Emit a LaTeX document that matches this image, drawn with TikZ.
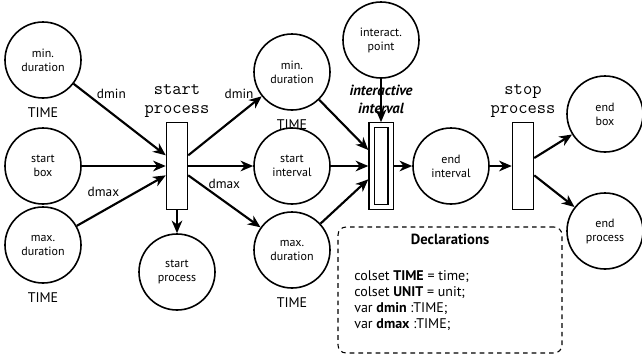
\documentclass[tikz,border=0pt]{standalone}
\usepackage{fontspec}
\setmainfont{PT Sans}
\usetikzlibrary{arrows.meta}
\usetikzlibrary{positioning}
\tikzset{place/.style = {draw, circle, line width=1.2pt, minimum size=57pt, inner sep=0pt,
                         align=center, font=\fontsize{9}{10.5}\selectfont},
         trans/.style = {draw, line width=1.1pt, minimum width=15.75pt, minimum height=65pt,
                         inner sep=0pt},
         arc/.style = {-{Stealth[length=9.5pt, width=8pt, inset=3pt]}, line width=1.6pt},
         colset/.style = {font=\fontsize{10.5}{12}\selectfont},
         inscr/.style = {font=\fontsize{10}{12}\selectfont, inner sep=1pt},
         tname/.style = {font=\ttfamily\fontsize{13.5}{14.5}\selectfont, align=center, inner sep=1pt}}

\begin{document}
\begin{tikzpicture}[x=0.75pt, y=-0.75pt]
    \useasboundingbox (0, 0) rectangle (642, 358);

    \node [place] (mindur) at (43, 60) {min.\\duration};
    \node [place] (startbox) at (43, 166) {start\\box};
    \node [place] (maxdur) at (43, 245) {max.\\duration};
    \node [colset, below=3pt of mindur] (mindurset) {TIME};
    \node [colset, below=3pt of maxdur] (maxdurset) {TIME};

    \node [trans] (tstart) at (177, 166) {};
    \node [tname, above=2pt of tstart] (tstartname) {start\\process};
    \node [place] (startproc) at (177, 272) {start\\process};

    \node [place] (mindurint) at (292, 72) {min.\\duration};
    \node [place] (startint) at (292, 166) {start\\interval};
    \node [place] (maxdurint) at (292, 250) {max.\\duration};
    \node [colset, below=3pt of mindurint] (mindurintset) {TIME};
    \node [colset, below=3pt of maxdurint] (maxdurintset) {TIME};

    \node [place] (interpt) at (381, 40) {interact.\\point};
    \node [trans, double, double distance=3pt, line width=0.8pt, minimum width=14.25pt,
           minimum height=61pt, outer sep=2.4pt] (tint) at (381, 166) {};
    \node [font=\bfseries\itshape\fontsize{11}{13.5}\selectfont, align=center, inner sep=1pt]
          (tintname) at (381, 99) {interactive\\interval};

    \node [place] (endint) at (451, 166) {end\\interval};
    \node [trans] (tstop) at (523, 166) {};
    \node [tname, above=2pt of tstop] (tstopname) {stop\\process};
    \node [place] (endbox) at (605, 114) {end\\box};
    \node [place] (endproc) at (605, 231) {end\\process};

    \draw [arc] (mindur) -- ([yshift=8pt]tstart.west) node [inscr, pos=0.41, above=9pt] {dmin};
    \draw [arc] (startbox) -- (tstart);
    \draw [arc] (maxdur) -- ([yshift=-7pt]tstart.west) node [inscr, pos=0.3, above=9pt] {dmax};
    \draw [arc] (tstart) -- (startproc);
    \draw [arc] ([yshift=8pt]tstart.east) -- (mindurint) node [inscr, pos=0.92, above left] {dmin};
    \draw [arc] (tstart) -- (startint);
    \draw [arc] ([yshift=-7pt]tstart.east) -- (maxdurint) node [inscr, pos=0.5, above=8pt] {dmax};

    \draw [arc] (mindurint) -- ([yshift=12pt]tint.west);
    \draw [arc] (startint) -- (tint);
    \draw [arc] (maxdurint) -- ([yshift=-10pt]tint.west);
    \draw [arc] (interpt) -- (tint);
    \draw [arc] (tint) -- (endint);
    \draw [arc] (endint) -- (tstop);
    \draw [arc] ([yshift=6pt]tstop.east) -- (endbox);
    \draw [arc] ([yshift=-7pt]tstop.east) -- (endproc);

    \node [draw, dashed, dash pattern=on 3.5pt off 3pt, line width=0.8pt, rounded corners=6pt,
           minimum width=168pt, minimum height=94.5pt] (decl) at (450, 290) {};
    \node [font=\bfseries\fontsize{11}{13}\selectfont] (decltitle) at (450, 239) {Declarations};
    \node [colset, anchor=north west, align=left, inner sep=0pt] (decltext) at (354, 270)
          {colset \textbf{TIME} = time;\\colset \textbf{UNIT} = unit;\\var \textbf{dmin} :TIME;\\var \textbf{dmax} :TIME;};
\end{tikzpicture}
\end{document}
